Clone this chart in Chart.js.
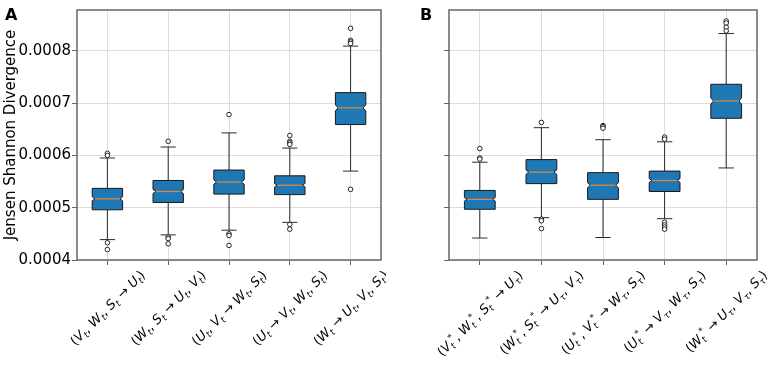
<!DOCTYPE html>
<html>
<head>
<meta charset="utf-8">
<script src="https://cdn.jsdelivr.net/npm/chart.js@4.4.0/dist/chart.umd.min.js"></script>
<style>
body{margin:0;background:#fff;}
#wrap{position:relative;width:772px;height:366px;overflow:hidden;background:#fff;}
.pane{position:absolute;top:0;width:386px;height:366px;}
.tag{position:absolute;font:bold 16px "DejaVu Sans";color:#000;}
</style>
</head>
<body>
<div id="wrap">
  <div class="pane" style="left:0"><canvas id="chartA" width="386" height="366"></canvas></div>
  <div class="pane" style="left:386px"><canvas id="chartB" width="386" height="366"></canvas></div>
  <div class="tag" style="left:5px;top:5px">A</div>
  <div class="tag" style="left:420px;top:5px">B</div>
</div>
<script>
// labels: "_x" = subscript x, "^x" = superscript x
const labelsA = ["(V_t, W_t, S_t → U_t)", "(W_t, S_t → U_t, V_t)", "(U_t, V_t → W_t, S_t)", "(U_t → V_t, W_t, S_t)", "(W_t → U_t, V_t, S_t)"];
const labelsB = ["(V_t^*, W_t^*, S_t^* → U_τ)", "(W_t^*, S_t^* → U_τ, V_τ)", "(U_t^*, V_t^* → W_τ, S_τ)", "(U_t^* → V_τ, W_τ, S_τ)", "(W_t^* → U_τ, V_τ, S_τ)"];
const yTicks = [0.0004, 0.0005, 0.0006, 0.0007, 0.0008];
const yMin = 0.0004, yMax = 0.000878;

// panel A
const whiskLoA = [0.000439, 0.000448, 0.000457, 0.000472, 0.000570];
const q1A      = [0.000496, 0.000510, 0.000526, 0.000525, 0.000659];
const notchLoA = [0.0005132, 0.0005271, 0.0005447, 0.0005396, 0.0006853];
const medA     = [0.000517, 0.000531, 0.000549, 0.000543, 0.000691];
const notchHiA = [0.0005208, 0.0005349, 0.0005533, 0.0005464, 0.0006967];
const q3A      = [0.000537, 0.000552, 0.000572, 0.000561, 0.000720];
const whiskHiA = [0.000595, 0.000616, 0.000643, 0.000614, 0.000809];
const outliersA = [
  [0.000604, 0.000600, 0.000433, 0.000420],
  [0.000627, 0.000444, 0.000441, 0.000431],
  [0.000678, 0.000450, 0.000447, 0.000428],
  [0.000638, 0.000627, 0.000624, 0.000621, 0.000468, 0.000459],
  [0.000843, 0.000820, 0.000817, 0.000814, 0.000535]
];

// panel B
const whiskLoB = [0.000442, 0.000481, 0.000443, 0.000479, 0.000576];
const q1B      = [0.000497, 0.000546, 0.000516, 0.000531, 0.000671];
const notchLoB = [0.0005126, 0.0005637, 0.0005383, 0.0005484, 0.0006980];
const medB     = [0.000516, 0.000568, 0.000543, 0.000552, 0.000704];
const notchHiB = [0.0005194, 0.0005723, 0.0005477, 0.0005556, 0.0007100];
const q3B      = [0.000533, 0.000592, 0.000567, 0.000570, 0.000736];
const whiskHiB = [0.000587, 0.000653, 0.000630, 0.000626, 0.000833];
const outliersB = [
  [0.000613, 0.000595, 0.000593],
  [0.000663, 0.000478, 0.000475, 0.000460],
  [0.000657, 0.000655, 0.000652],
  [0.000635, 0.000631, 0.000472, 0.000467, 0.000463, 0.000459],
  [0.000857, 0.000853, 0.000845, 0.000838]
];

Chart.defaults.font.family = "DejaVu Sans";
Chart.defaults.color = "#000";

// notched boxes + whiskers, drawn from the scales
function boxPlugin(st) {
  return {
    id: 'boxes',
    beforeDatasetsDraw(chart) {
      const ctx = chart.ctx, x = chart.scales.x, y = chart.scales.y;
      const step = x.getPixelForValue(1) - x.getPixelForValue(0);
      const hw = step * 0.25, cw = hw * 0.5, nd = hw * 0.18;
      ctx.save();
      for (let i = 0; i < st.med.length; i++) {
        const cx = x.getPixelForValue(i);
        const Y = v => y.getPixelForValue(v);
        ctx.strokeStyle = '#2b2b2b'; ctx.lineWidth = 1;
        ctx.beginPath();
        ctx.moveTo(cx, Y(st.q3[i])); ctx.lineTo(cx, Y(st.hi[i]));
        ctx.moveTo(cx - cw, Y(st.hi[i])); ctx.lineTo(cx + cw, Y(st.hi[i]));
        ctx.moveTo(cx, Y(st.q1[i])); ctx.lineTo(cx, Y(st.lo[i]));
        ctx.moveTo(cx - cw, Y(st.lo[i])); ctx.lineTo(cx + cw, Y(st.lo[i]));
        ctx.stroke();
        ctx.beginPath();
        ctx.moveTo(cx - hw, Y(st.q1[i]));
        ctx.lineTo(cx - hw, Y(st.nlo[i]));
        ctx.lineTo(cx - hw + nd, Y(st.med[i]));
        ctx.lineTo(cx - hw, Y(st.nhi[i]));
        ctx.lineTo(cx - hw, Y(st.q3[i]));
        ctx.lineTo(cx + hw, Y(st.q3[i]));
        ctx.lineTo(cx + hw, Y(st.nhi[i]));
        ctx.lineTo(cx + hw - nd, Y(st.med[i]));
        ctx.lineTo(cx + hw, Y(st.nlo[i]));
        ctx.lineTo(cx + hw, Y(st.q1[i]));
        ctx.closePath();
        ctx.fillStyle = '#1f77b4';
        ctx.fill();
        ctx.strokeStyle = '#1a1a1a';
        ctx.stroke();
        ctx.beginPath();
        ctx.moveTo(cx - hw + nd, Y(st.med[i]));
        ctx.lineTo(cx + hw - nd, Y(st.med[i]));
        ctx.strokeStyle = '#d08a4c'; ctx.lineWidth = 1.3;
        ctx.stroke();
      }
      ctx.restore();
    }
  };
}

// frame round the plot area
const framePlugin = {
  id: 'frame',
  afterDraw(chart) {
    const a = chart.chartArea, ctx = chart.ctx;
    ctx.save();
    ctx.strokeStyle = '#666'; ctx.lineWidth = 1.5;
    ctx.strokeRect(a.left, a.top, a.right - a.left, a.bottom - a.top);
    ctx.restore();
  }
};

// rotated x labels with sub/superscripts (matplotlib style, centred on tick)
function parseLabel(s) {
  const runs = [];
  for (let i = 0; i < s.length; i++) {
    let ch = s[i], kind = 'base';
    if ((ch === '_' || ch === '^') && i + 1 < s.length) {
      kind = ch === '_' ? 'sub' : 'sup';
      ch = s[++i];
    }
    runs.push({ ch, kind });
  }
  return runs;
}
function labelPlugin(labels) {
  return {
    id: 'xlabels',
    afterDraw(chart) {
      const ctx = chart.ctx, x = chart.scales.x, a = chart.chartArea;
      const fs = 13, ss = 9;
      ctx.save();
      ctx.fillStyle = '#000';
      labels.forEach((lab, i) => {
        const runs = parseLabel(lab);
        const fontFor = r => {
          const size = r.kind === 'base' ? fs : ss;
          const it = /[A-Za-zτ]/.test(r.ch) ? 'italic ' : '';
          return it + size + 'px "DejaVu Sans"';
        };
        let w = 0;
        runs.forEach(r => { ctx.font = fontFor(r); r.w = ctx.measureText(r.ch).width; w += r.w; });
        const H = (w + fs) * Math.SQRT1_2;
        const cx = x.getPixelForValue(i);
        ctx.save();
        ctx.translate(cx, a.bottom + 8 + H / 2);
        ctx.rotate(-Math.PI / 4);
        let px = -w / 2;
        runs.forEach(r => {
          ctx.font = fontFor(r);
          let dy = fs * 0.35;
          if (r.kind === 'sub') dy += fs * 0.22;
          if (r.kind === 'sup') dy -= fs * 0.42;
          ctx.fillText(r.ch, px, dy);
          px += r.w;
        });
        ctx.restore();
      });
      ctx.restore();
    }
  };
}

function makeChart(id, labels, st, outliers, yWidth, padRight, showY) {
  // category x values are given as the label strings
  const pts = [];
  outliers.forEach((arr, i) => arr.forEach(v => pts.push({ x: labels[i], y: v })));
  return new Chart(document.getElementById(id), {
    type: 'scatter',
    data: {
      labels: labels,
      datasets: [{
        data: pts,
        pointRadius: 2.3,
        pointBackgroundColor: '#fff',
        pointBorderColor: '#222',
        pointBorderWidth: 1
      }]
    },
    options: {
      responsive: false,
      animation: false,
      layout: { padding: { left: 0, right: padRight, top: 4, bottom: 0 } },
      plugins: { legend: { display: false }, tooltip: { enabled: false } },
      scales: {
        x: {
          type: 'category',
          offset: true,
          ticks: { display: false },
          grid: { color: '#dcdcdc', offset: false, tickLength: 5, tickColor: '#666' },
          border: { display: false },
          afterFit: s => { s.height = 106; }
        },
        y: {
          min: yMin, max: yMax,
          afterBuildTicks: s => { s.ticks = yTicks.map(v => ({ value: v })); },
          ticks: {
            font: { size: 15 },
            padding: 1,
            callback: v => showY ? v.toFixed(4) : ''
          },
          grid: { color: '#dcdcdc', tickLength: 5, tickColor: '#666' },
          border: { display: false },
          title: {
            display: showY,
            text: 'Jensen Shannon Divergence',
            font: { size: 15 },
            padding: { top: 2, bottom: 0 }
          },
          afterFit: s => { s.width = yWidth; }
        }
      }
    },
    plugins: [boxPlugin(st), framePlugin, labelPlugin(labels)]
  });
}

makeChart('chartA', labelsA,
  { lo: whiskLoA, q1: q1A, nlo: notchLoA, med: medA, nhi: notchHiA, q3: q3A, hi: whiskHiA },
  outliersA, 77, 2, true);
makeChart('chartB', labelsB,
  { lo: whiskLoB, q1: q1B, nlo: notchLoB, med: medB, nhi: notchHiB, q3: q3B, hi: whiskHiB },
  outliersB, 63, 15, false);
</script>
</body>
</html>
